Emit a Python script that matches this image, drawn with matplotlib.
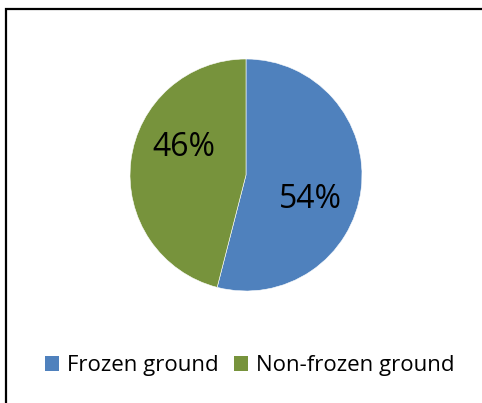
import matplotlib.pyplot as plt
from matplotlib.patches import Rectangle, Patch

labels = ['Frozen ground', 'Non-frozen ground']
shares = [54, 46]
colors = ['#4F81BD', '#77933C']
pct_text = ['54%', '46%']

W, H = 482, 403
fig = plt.figure(figsize=(W / 100, H / 100), dpi=100)
ax = fig.add_axes([0, 0, 1, 1])

wedges, _ = ax.pie(shares, colors=colors, startangle=90, counterclock=False,
                   center=(246, H - 175), radius=116,
                   wedgeprops=dict(edgecolor='white', linewidth=0.4))

# pie() resets the limits, so set them afterwards
ax.set_xlim(0, W)
ax.set_ylim(0, H)
ax.set_aspect('equal')
ax.axis('off')

# chart frame (right and bottom edges fall outside the image)
ax.add_patch(Rectangle((6, -10), 490, H - 9 + 10, fill=False, edgecolor='black',
                       linewidth=1.6, clip_on=False))

# percentage labels (Excel-style placement)
ax.text(310, H - 200, pct_text[0], ha='center', va='center', fontsize=23, family='Open Sans')
ax.text(184, H - 147, pct_text[1], ha='center', va='center', fontsize=23, family='Open Sans')

handles = [Patch(facecolor=c, edgecolor='none') for c in colors]
ax.legend(handles, labels, loc='center', bbox_to_anchor=(250 / W, 1 - 366 / H),
          ncol=2, frameon=False, prop={'family': 'Open Sans', 'size': 16},
          handlelength=0.63, handleheight=0.63, handletextpad=0.36, columnspacing=0.7)

fig.savefig('out.png', dpi=100)
